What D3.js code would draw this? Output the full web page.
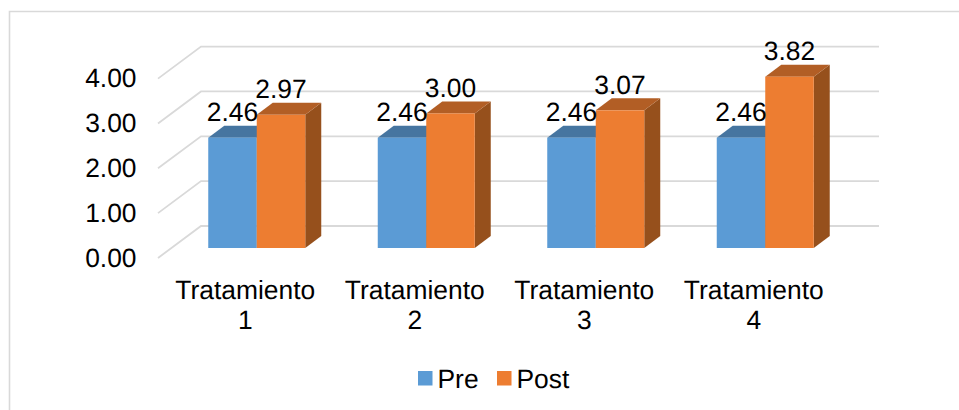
<!DOCTYPE html>
<html>
<head>
<meta charset="utf-8">
<script src="https://cdnjs.cloudflare.com/ajax/libs/d3/7.8.5/d3.min.js"></script>
<style>
  html, body { margin: 0; padding: 0; background: #fff; }
  svg { display: block; }
  text { font-family: "Liberation Sans", Arial, sans-serif; fill: #000; text-rendering: geometricPrecision; }
</style>
</head>
<body>
<svg id="chart" width="959" height="410"></svg>
<script>
// Pre / Post scores per treatment
const categories = ["Tratamiento 1", "Tratamiento 2", "Tratamiento 3", "Tratamiento 4"];
const seriesNames = ["Pre", "Post"];
const preValues = [2.46, 2.46, 2.46, 2.46];
const postValues = [2.97, 3.00, 3.07, 3.82];
const yTicks = [0, 1, 2, 3, 4];

const colors = { Pre: "#5B9BD5", Post: "#ED7D31" };
const topColors = { Pre: "#4675A0", Post: "#B25E25" };
const sideColors = { Pre: "#3B6590", Post: "#96501C" };
const gridColor = "#D9D9D9";

const svg = d3.select("#chart");
const fontSize = 26.4;

// Oblique projection used for the 3D look
const barDepth = { dx: 16, dy: -12 };
const floorFront = { dx: -14, dy: 10 };
const floorBack = { dx: 29, dy: -22 };

const y = d3.scaleLinear().domain([0, 4]).range([248, 68.6]);
const x0 = d3.scaleBand().domain(categories).range([172, 850]);
const x1 = d3.scaleBand().domain(seriesNames)
  .range([x0.bandwidth() / 2 - 48.5, x0.bandwidth() / 2 + 48.5]);
const [xMin, xMax] = x0.range();

// Chart frame: only the top and left edges are visible
svg.append("path")
  .attr("d", "M9.5,410V11.5H959")
  .attr("fill", "none")
  .attr("stroke", gridColor)
  .attr("stroke-width", 1.6);

// Back wall gridlines and their diagonals across the side wall
const grid = svg.append("g").attr("fill", "none").attr("stroke", gridColor).attr("stroke-width", 1.8);
yTicks.forEach(t => {
  const p = d3.path();
  p.moveTo(xMin + floorFront.dx, y(t) + floorFront.dy);
  p.lineTo(xMin + floorBack.dx, y(t) + floorBack.dy);
  p.lineTo(xMax + floorBack.dx, y(t) + floorBack.dy);
  grid.append("path").attr("d", p.toString());
});

// Value axis labels
svg.append("g").selectAll("text").data(yTicks).join("text")
  .attr("x", 136.5)
  .attr("y", t => y(t) + floorFront.dy + 8.7)
  .attr("text-anchor", "end")
  .attr("font-size", fontSize)
  .text(d3.format(".2f"));

// Bars: each one is a side face, a top face and a front face
const rows = categories.flatMap((c, i) => [
  { cat: c, name: "Pre", value: preValues[i] },
  { cat: c, name: "Post", value: postValues[i] }
]);

const bars = svg.append("g").selectAll("g").data(rows).join("g");
const bx = d => x0(d.cat) + x1(d.name);
const bw = x1.bandwidth();

bars.append("path")
  .attr("fill", d => sideColors[d.name])
  .attr("d", d => {
    const r = bx(d) + bw, t = y(d.value), b = y(0);
    return `M${r},${t}l${barDepth.dx},${barDepth.dy}V${b + barDepth.dy}L${r},${b}Z`;
  });
bars.append("path")
  .attr("fill", d => topColors[d.name])
  .attr("d", d => {
    const l = bx(d), t = y(d.value);
    return `M${l},${t}l${barDepth.dx},${barDepth.dy}h${bw}l${-barDepth.dx},${-barDepth.dy}Z`;
  });
bars.append("rect")
  .attr("fill", d => colors[d.name])
  .attr("x", bx)
  .attr("y", d => y(d.value))
  .attr("width", bw)
  .attr("height", d => y(0) - y(d.value));

// Value labels sit on top of the bars
svg.append("g").selectAll("text").data(rows).join("text")
  .attr("x", d => bx(d) + bw / 2)
  .attr("y", d => y(d.value) - 16.5)
  .attr("text-anchor", "middle")
  .attr("font-size", fontSize)
  .text(d => d.value.toFixed(2));

// Category labels wrap onto two lines
const catLabels = svg.append("g").selectAll("text").data(categories).join("text")
  .attr("text-anchor", "middle")
  .attr("font-size", fontSize)
  .attr("transform", c => `translate(${x0(c) + x0.bandwidth() / 2 - 11.5},298.5)`);
catLabels.each(function (c) {
  const [word, num] = c.split(" ");
  const sel = d3.select(this);
  sel.append("tspan").attr("x", 0).attr("y", 0).text(word);
  sel.append("tspan").attr("x", 0).attr("y", 30.5).text(num);
});

// Legend
const legendX = d3.scaleOrdinal().domain(seriesNames).range([418, 497]);
const legend = svg.append("g").selectAll("g").data(seriesNames).join("g")
  .attr("transform", n => `translate(${legendX(n)},371)`);
legend.append("rect").attr("width", 14.5).attr("height", 14.5).attr("fill", n => colors[n]);
legend.append("text").attr("x", 19.5).attr("y", 16.5).attr("font-size", fontSize).text(n => n);
</script>
</body>
</html>
